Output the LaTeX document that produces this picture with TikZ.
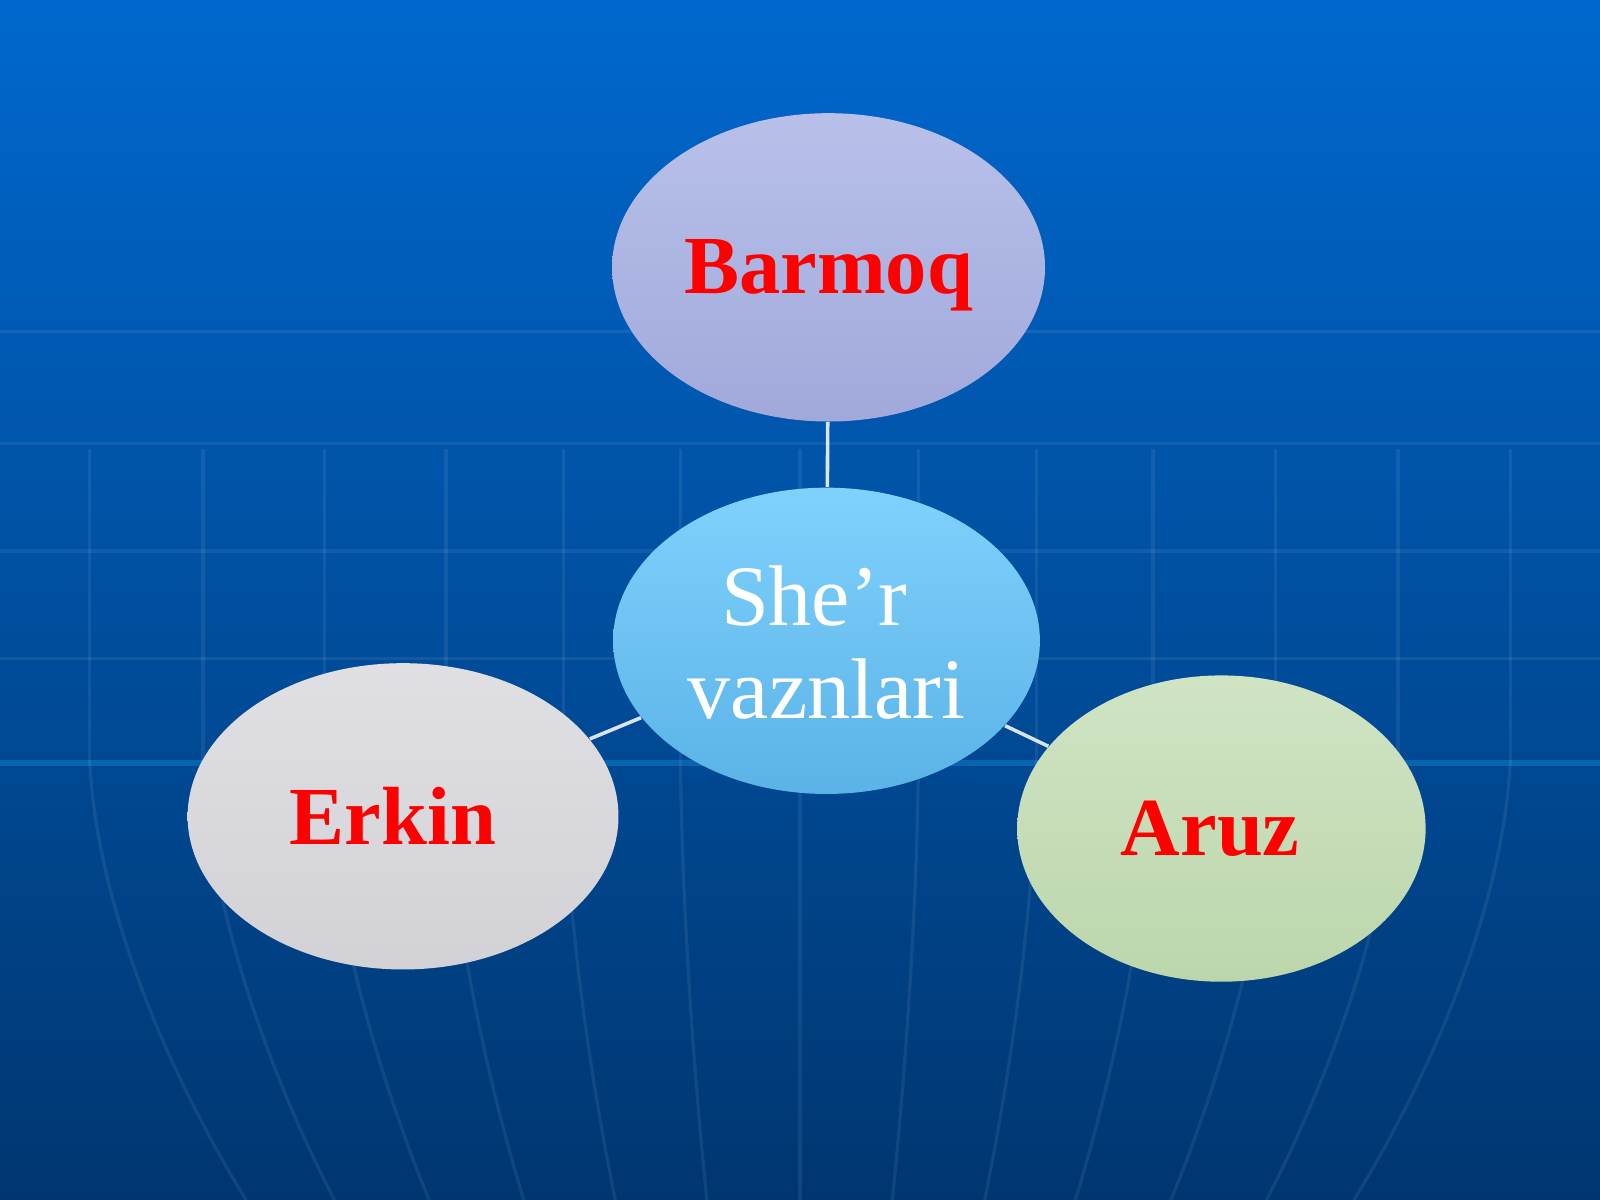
\documentclass[tikz,border=0pt]{standalone}
\usepackage{fontspec}
\setmainfont{Liberation Serif}
\usetikzlibrary{shapes.geometric}
\definecolor{bgtop}{HTML}{0068CE}
\definecolor{bgmid}{HTML}{00509E}
\definecolor{bgbot}{HTML}{003670}
\definecolor{barA}{HTML}{B8C0EA}
\definecolor{barB}{HTML}{A0A9DA}
\definecolor{cenA}{HTML}{80D2FD}
\definecolor{cenB}{HTML}{5AB2E6}
\definecolor{erkA}{HTML}{E0E0E4}
\definecolor{erkB}{HTML}{D2D2D6}
\definecolor{aruA}{HTML}{D0E4C4}
\definecolor{aruB}{HTML}{BCD6AC}
\definecolor{txtred}{HTML}{FF0000}
\tikzset{
  oval/.style={ellipse, inner sep=0pt, draw=none},
  bigword/.style={font=\fontsize{23}{26}\selectfont\bfseries, text=txtred},
  centerword/.style={font=\fontsize{24}{26}\selectfont, text=white, align=center},
  link/.style={draw=white, line width=1pt, opacity=0.85},
  gridline/.style={draw=white, line width=0.9pt, opacity=0.07},
  equator/.style={draw=cyan!60!blue, line width=1.6pt, opacity=0.55}
}
\begin{document}
\begin{tikzpicture}[x=0.01cm,y=-0.01cm]
\useasboundingbox (0,0) rectangle (1568,1176);
% background
\shade[top color=bgtop, middle color=bgmid, bottom color=bgbot] (0,0) rectangle (1568,1176);
% horizontal grid
\foreach \yy in {325,435,540,645} {
  \draw[gridline] (0,\yy) -- (1568,\yy);
}
\draw[equator] (0,748) -- (1568,748);
% meridians
\foreach \xx in {88,199,318,437,552,667,784,900,1016,1130,1250,1370,1480} {
  \draw[gridline] (\xx,440) .. controls (\xx,600) and (\xx,700) .. (\xx,748);
  \draw[gridline] (\xx,748) .. controls ({784+(\xx-784)*0.99},880) and ({784+(\xx-784)*0.9},1040) .. ({784+(\xx-784)*0.78},1176);
}
% nodes
\node[oval, top color=barA, bottom color=barB, minimum width=4.24cm, minimum height=3.02cm] (barmoq) at (812,262) {};
\node[bigword] (barmoqtxt) at (812,270) {Barmoq};
\node[oval, top color=cenA, bottom color=cenB, minimum width=4.18cm, minimum height=3.0cm] (sher) at (810,628) {};
\node[centerword] (shertxt) at (810,630) {She’r\hspace*{0.24cm}\\vaznlari};
\node[oval, top color=erkA, bottom color=erkB, minimum width=4.22cm, minimum height=3.0cm] (erkin) at (395,800) {};
\node[bigword] (erkintxt) at (385,800) {Erkin};
\node[oval, top color=aruA, bottom color=aruB, minimum width=4.0cm, minimum height=3.0cm] (aruz) at (1197,812) {};
\node[bigword] (aruztxt) at (1186,812) {Aruz};
% connectors
\draw[link] (barmoq) -- (sher);
\draw[link] (erkin) -- (sher);
\draw[link] (sher) -- (aruz);
\end{tikzpicture}
\end{document}
